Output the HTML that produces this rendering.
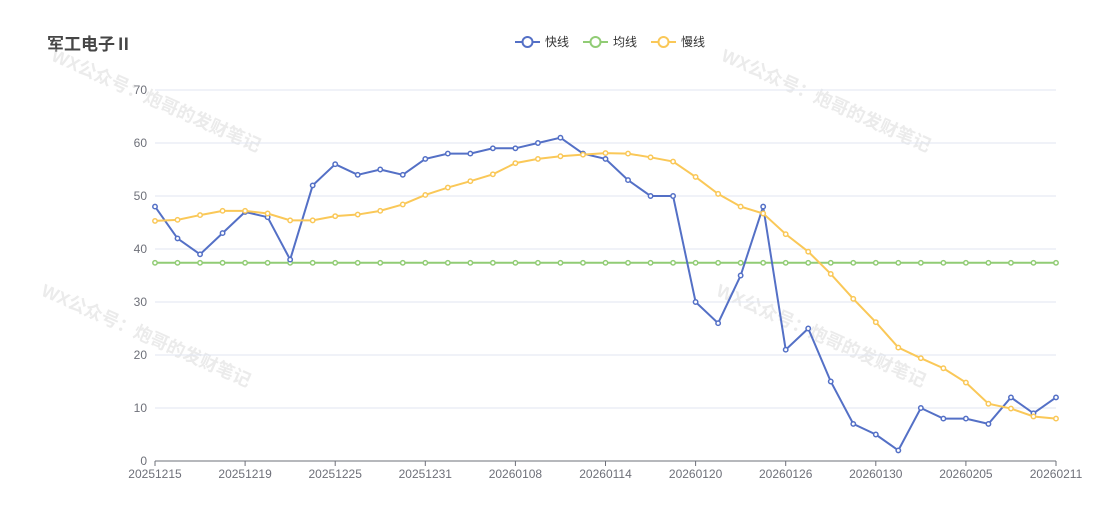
<!DOCTYPE html>
<html><head><meta charset="utf-8">
<style>
body{margin:0;background:#fff;font-family:"Liberation Sans","Noto Sans CJK SC",sans-serif;}
svg text{font-family:"Liberation Sans","Noto Sans CJK SC",sans-serif;}
</style></head>
<body>
<svg id="chart" width="1105" height="512">
<text x="47" y="50" font-size="17" font-weight="bold" fill="#464646">军工电子Ⅱ</text>
<g fill="#d2d2d2" opacity="0.45" font-size="18" font-weight="bold">
<text transform="translate(50,60) rotate(24)">WX公众号：炮哥的发财笔记</text>
<text transform="translate(720,60) rotate(24)">WX公众号：炮哥的发财笔记</text>
<text transform="translate(40,295) rotate(24)">WX公众号：炮哥的发财笔记</text>
<text transform="translate(715,295) rotate(24)">WX公众号：炮哥的发财笔记</text>
</g>
<g id="legend"></g>
<g id="grid"></g>
<g id="series"></g>
</svg>
<script>
const dates=["20251215","20251216","20251217","20251218","20251219","20251222","20251223","20251224","20251225","20251226","20251229","20251230","20251231","20260105","20260106","20260107","20260108","20260109","20260112","20260113","20260114","20260115","20260116","20260119","20260120","20260121","20260122","20260123","20260126","20260127","20260128","20260129","20260130","20260202","20260203","20260204","20260205","20260206","20260209","20260210","20260211"];
const fast=[48,42,39,43,47,46,38,52,56,54,55,54,57,58,58,59,59,60,61,58,57,53,50,50,30,26,35,48,21,25,15,7,5,2,10,8,8,7,12,9,12];
const avgVal=37.4;
const slow=[45.3,45.5,46.4,47.2,47.2,46.7,45.4,45.4,46.2,46.5,47.2,48.4,50.2,51.6,52.8,54.1,56.2,57.0,57.5,57.8,58.1,58.0,57.3,56.5,53.6,50.4,48.0,46.7,42.8,39.5,35.3,30.6,26.2,21.4,19.4,17.5,14.8,10.8,9.9,8.4,8.0];
const yTicks=[0,10,20,30,40,50,60,70];
const ns="http://www.w3.org/2000/svg";
const x0=155,x1=1056,y0=461,y1=90;
const xs=i=>x0+(x1-x0)*i/(dates.length-1);
const ys=v=>y0-(y0-y1)*v/70;
function mk(t,a,p){const e=document.createElementNS(ns,t);for(const k in a)e.setAttribute(k,a[k]);p.appendChild(e);return e;}
const grid=document.getElementById('grid');
yTicks.forEach(v=>{
 const l=mk('line',{x1:x0,x2:x1,y1:ys(v),y2:ys(v),stroke:v===0?'#6e7079':'#e0e6f1','stroke-width':1},grid);
 
 
 const t=mk('text',{x:x0-8,y:ys(v)+4,'text-anchor':'end','font-size':12,fill:'#6e7079'},grid);
 t.textContent=v;
 
 
});
dates.forEach((d,i)=>{
 if(i%4===0){
  const tk=mk('line',{x1:xs(i),x2:xs(i),y1:y0,y2:y0+5,stroke:'#6e7079'},grid);
  
  
  const t=mk('text',{x:xs(i),y:y0+17,'text-anchor':'middle','font-size':12,fill:'#6e7079'},grid);
  t.textContent=d;
  
  
 }
});
const series=document.getElementById('series');
function draw(vals,color,name){
 const g=mk('g',{},series);
 
 
 const p=mk('polyline',{points:vals.map((v,i)=>xs(i)+','+ys(v)).join(' '),fill:'none',stroke:color,'stroke-width':2},g);
 
 
 vals.forEach((v,i)=>{
  const c=mk('circle',{cx:xs(i),cy:ys(v),r:2.2,fill:'#fff',stroke:color,'stroke-width':1.5},g);
  
  
 });
}
draw(dates.map(()=>avgVal),'#91cc75','avg-series');
draw(fast,'#5470c6','fast-series');
draw(slow,'#fac858','slow-series');
const lg=document.getElementById('legend');
[['快线','#5470c6',515],['均线','#91cc75',583],['慢线','#fac858',651]].forEach(([n,c,x])=>{
 const g=mk('g',{},lg);
 
 
 mk('line',{x1:x,x2:x+25,y1:42,y2:42,stroke:c,'stroke-width':2},g);
 mk('circle',{cx:x+12.5,cy:42,r:5,fill:'#fff',stroke:c,'stroke-width':2},g);
 const t=mk('text',{x:x+30,y:46,'font-size':12,fill:'#333'},g);
 t.textContent=n;
});
</script>
</body></html>
